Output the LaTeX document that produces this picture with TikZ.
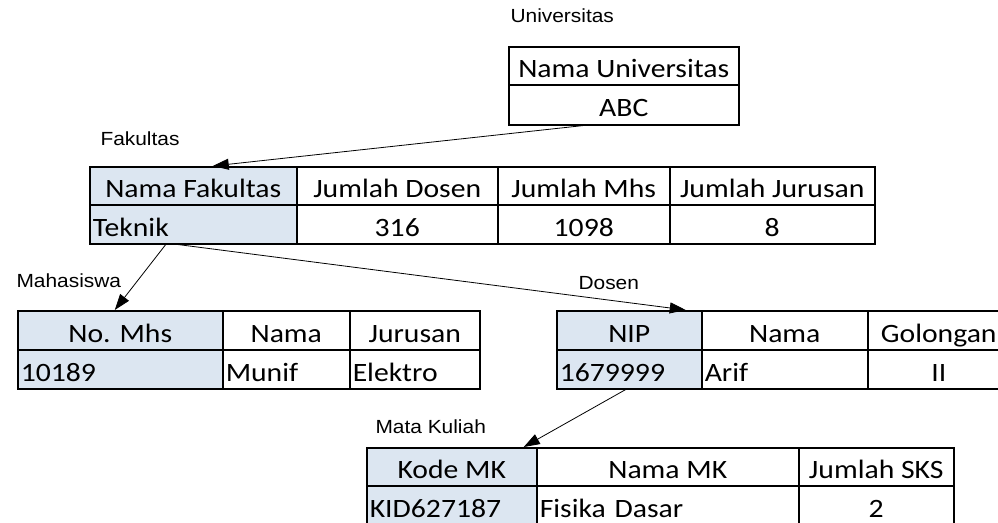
\documentclass[tikz,border=0pt]{standalone}
\usepackage{fontspec}
\usetikzlibrary{arrows.meta}
\newfontfamily\cellfont[FakeStretch=1.12]{Carlito}
\newfontfamily\lblfont[FakeStretch=1.1]{Liberation Sans}
\definecolor{keyblue}{HTML}{DCE6F1}
\tikzset{
  cell/.style={draw, line width=1.5pt, anchor=north west, inner xsep=3pt, inner ysep=0pt,
    text height=28pt, text depth=4pt, font=\cellfont\fontsize{26.5}{30}\selectfont},
  lcell/.style={cell, align=left},
  keycell/.style={cell, fill=keyblue},
  tname/.style={anchor=base west, font=\lblfont\fontsize{19}{22}\selectfont},
  link/.style={line width=0.8pt, -{Triangle[length=16pt,width=11pt]}}
}
\begin{document}
\begin{tikzpicture}[x=1pt,y=-1pt]
        \clip (0,0) rectangle (998,522);

        % Universitas
        \node[tname] (uniT) at (507,22) {Universitas};
        \node[cell, minimum width=230pt, minimum height=38pt] (uniH) at (508,46) {Nama Universitas};
        \node[cell, minimum width=230pt, minimum height=40pt] (uniV) at (508,84) {ABC};

        % Fakultas
        \node[tname] (fakT) at (97,145) {Fakultas};
        \node[keycell, minimum width=207pt, minimum height=38pt] (fakH1) at (89,166) {Nama Fakultas};
        \node[cell, minimum width=201pt, minimum height=38pt] (fakH2) at (296,166) {Jumlah Dosen};
        \node[cell, minimum width=172pt, minimum height=38pt] (fakH3) at (497,166) {Jumlah Mhs};
        \node[cell, minimum width=205pt, minimum height=38pt] (fakH4) at (669,166) {Jumlah Jurusan};
        \node[keycell, align=left, text width=201pt, minimum height=39pt] (fakV1) at (89,204) {Teknik};
        \node[cell, minimum width=201pt, minimum height=39pt] (fakV2) at (296,204) {316};
        \node[cell, minimum width=172pt, minimum height=39pt] (fakV3) at (497,204) {1098};
        \node[cell, minimum width=205pt, minimum height=39pt] (fakV4) at (669,204) {8};

        % Mahasiswa
        \node[tname] (mhsT) at (13,287) {Mahasiswa};
        \node[keycell, minimum width=205pt, minimum height=39pt] (mhsH1) at (17,310) {No. Mhs};
        \node[cell, minimum width=127pt, minimum height=39pt] (mhsH2) at (222,310) {Nama};
        \node[cell, minimum width=130pt, minimum height=39pt] (mhsH3) at (349,310) {Jurusan};
        \node[keycell, align=left, text width=199pt, minimum height=39pt] (mhsV1) at (17,349) {10189};
        \node[lcell, text width=121pt, minimum height=39pt] (mhsV2) at (222,349) {Munif};
        \node[lcell, text width=124pt, minimum height=39pt] (mhsV3) at (349,349) {Elektro};

        % Dosen
        \node[tname] (dsnT) at (575,289) {Dosen};
        \node[keycell, minimum width=145pt, minimum height=39pt] (dsnH1) at (556,310) {NIP};
        \node[cell, minimum width=166pt, minimum height=39pt] (dsnH2) at (701,310) {Nama};
        \node[cell, minimum width=142pt, minimum height=39pt] (dsnH3) at (867,310) {Golongan};
        \node[keycell, align=left, text width=139pt, minimum height=39pt] (dsnV1) at (556,349) {1679999};
        \node[lcell, text width=160pt, minimum height=39pt] (dsnV2) at (701,349) {Arif};
        \node[cell, minimum width=142pt, minimum height=39pt] (dsnV3) at (867,349) {II};

        % Mata Kuliah
        \node[tname] (mkT) at (372,433) {Mata Kuliah};
        \node[keycell, minimum width=170pt, minimum height=38pt] (mkH1) at (366,447) {Kode MK};
        \node[cell, minimum width=262pt, minimum height=38pt] (mkH2) at (536,447) {Nama MK};
        \node[cell, minimum width=155pt, minimum height=38pt] (mkH3) at (798,447) {Jumlah SKS};
        \node[keycell, align=left, text width=164pt, minimum height=39pt] (mkV1) at (366,485) {KID627187};
        \node[lcell, text width=256pt, minimum height=39pt] (mkV2) at (536,485) {Fisika Dasar};
        \node[cell, minimum width=155pt, minimum height=39pt] (mkV3) at (798,485) {2};

        % Relations
        \draw[link] ([xshift=-40pt]uniV.south) -- ([xshift=19.5pt]fakH1.north);
        \draw[link] ([xshift=-27.5pt]fakV1.south) -- ([xshift=-5.5pt]mhsH1.north);
        \draw[link] ([xshift=-15.5pt]fakV1.south) -- ([xshift=56.5pt]dsnH1.north);
        \draw[link] ([xshift=-3.5pt]dsnV1.south) -- ([xshift=72pt]mkH1.north);
    \end{tikzpicture}
\end{document}
